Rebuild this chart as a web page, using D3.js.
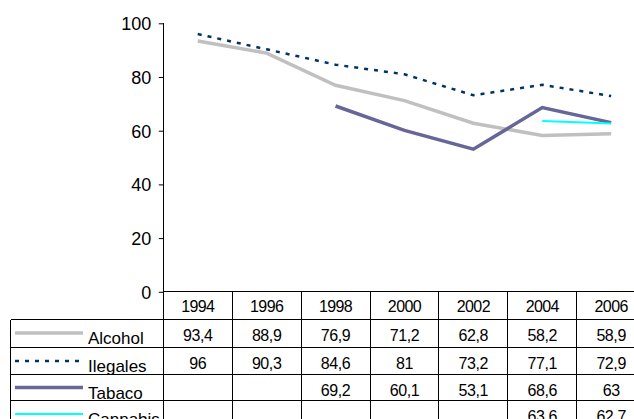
<!DOCTYPE html>
<html><head><meta charset="utf-8">
<script src="https://cdn.jsdelivr.net/npm/d3@7/dist/d3.min.js"></script>
<style>html,body{margin:0;padding:0;background:#fff;overflow:hidden}svg{display:block}</style>
</head><body>
<script>
const years = ["1994","1996","1998","2000","2002","2004","2006"];
const seriesNames = ["Alcohol","Ilegales","Tabaco","Cannabis"];
const alcohol  = [93.4, 88.9, 76.9, 71.2, 62.8, 58.2, 58.9];
const ilegales = [96, 90.3, 84.6, 81, 73.2, 77.1, 72.9];
const tabaco   = [null, null, 69.2, 60.1, 53.1, 68.6, 63];
const cannabis = [null, null, null, null, null, 63.6, 62.7];
const yTicks = [0, 20, 40, 60, 80, 100];

const seriesValues = [alcohol, ilegales, tabaco, cannabis];
const styles = [
  {color:"#C0C0C0", width:3.5, dash:null},
  {color:"#003366", width:2.5, dash:"4,6"},
  {color:"#666699", width:3.5, dash:null},
  {color:"#00FFFF", width:2, dash:null}
];

const W = 634, H = 419;
const svg = d3.select("body").append("svg").attr("width", W).attr("height", H);
const font = "'Liberation Sans', Arial, sans-serif";

const pLeft = 163.3, pRight = 645.6, pTop = 23.3, pBottom = 291.8;
const x = d3.scaleBand().domain(years).range([pLeft, pRight]).padding(0);
const y = d3.scaleLinear().domain([0, 100]).range([pBottom, pTop]);
const cx = d => x(d) + x.bandwidth() / 2;

// Y axis
const yAxis = d3.axisLeft(y).tickValues(yTicks).tickSize(4.5).tickSizeOuter(0);
const ga = svg.append("g").attr("transform", `translate(${pLeft},0)`).call(yAxis);
ga.select(".domain").remove();
ga.selectAll(".tick line").attr("stroke", "#000");
ga.selectAll(".tick text").attr("font-family", font).attr("font-size", 18).attr("fill", "#000").attr("x", -12).attr("dy", "0.36em");

// grid / table lines
const rowsY = [319.5, 347.5, 374, 400.5, 427];
const grid = svg.append("g").attr("stroke", "#000").attr("stroke-width", 1).attr("shape-rendering", "crispEdges");
grid.append("line").attr("x1", pLeft).attr("x2", pLeft).attr("y1", pTop).attr("y2", H + 5);
grid.append("line").attr("x1", pLeft).attr("x2", pRight).attr("y1", pBottom).attr("y2", pBottom);
years.forEach(d => {
  grid.append("line").attr("x1", x(d) + x.bandwidth()).attr("x2", x(d) + x.bandwidth()).attr("y1", pBottom).attr("y2", H + 5);
});
rowsY.forEach(r => {
  grid.append("line").attr("x1", 10.7).attr("x2", pRight).attr("y1", r).attr("y2", r);
});
grid.append("line").attr("x1", 10.7).attr("x2", 10.7).attr("y1", rowsY[0]).attr("y2", H + 5);

// header years
svg.append("g").selectAll("text").data(years).join("text")
  .attr("x", d => cx(d)).attr("y", pBottom + 20)
  .attr("text-anchor", "middle").attr("font-family", font).attr("font-size", 16)
  .attr("letter-spacing", "-0.6px")
  .text(d => d);

// series lines
const line = d3.line().defined(d => d.v != null).x(d => cx(d.year)).y(d => y(d.v));
seriesValues.forEach((vals, i) => {
  const data = years.map((yr, j) => ({year: yr, v: vals[j]}));
  const p = svg.append("path").datum(data).attr("d", line)
    .attr("fill", "none").attr("stroke", styles[i].color).attr("stroke-width", styles[i].width)
    .attr("stroke-linejoin", "miter");
  if (styles[i].dash) p.attr("stroke-dasharray", styles[i].dash);
});

// table rows
seriesNames.forEach((name, i) => {
  const r0 = rowsY[i];
  const mid = r0 + 13.5;
  const ls = svg.append("line").attr("x1", 15).attr("x2", 83).attr("y1", mid).attr("y2", mid)
    .attr("stroke", styles[i].color).attr("stroke-width", styles[i].width);
  if (styles[i].dash) ls.attr("stroke-dasharray", styles[i].dash);
  svg.append("text").attr("x", 88).attr("y", r0 + 24.5)
    .attr("font-family", font).attr("font-size", 17).text(name);
  svg.append("g").selectAll("text").data(years.map((yr, j) => ({year: yr, v: seriesValues[i][j]})).filter(d => d.v != null))
    .join("text").attr("x", d => cx(d.year)).attr("y", r0 + 21.5)
    .attr("text-anchor", "middle").attr("font-family", font).attr("font-size", 16)
    .attr("letter-spacing", "-0.4px")
    .text(d => String(d.v).replace(".", ","));
});
</script>
</body></html>
